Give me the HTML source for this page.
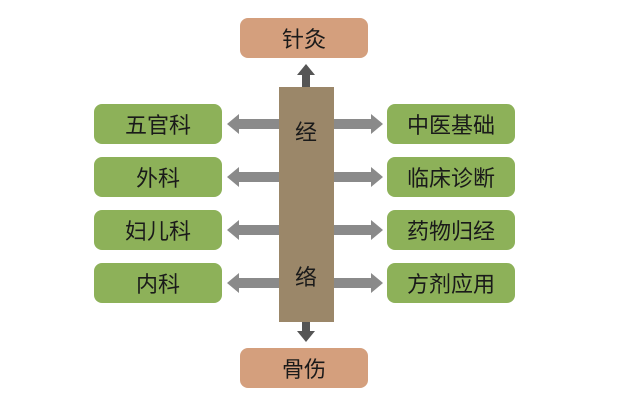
<!DOCTYPE html>
<html><head><meta charset="utf-8"><style>
body{margin:0;width:617px;height:409px;background:#fff;position:relative;overflow:hidden;font-family:"Liberation Sans","Noto Sans CJK SC",sans-serif;}
.b{position:absolute;width:128px;height:40px;border-radius:8px;display:flex;align-items:center;justify-content:center;font-size:22px;color:#1a1a1a;}
.g{background:#8db159;}
.o{background:#d49f7d;}
</style></head><body>
<div class="b o" style="left:240px;top:18px">针灸</div>
<div class="b o" style="left:240px;top:348px">骨伤</div>
<div class="b g" style="left:94px;top:104px">五官科</div>
<div class="b g" style="left:94px;top:157px">外科</div>
<div class="b g" style="left:94px;top:210px">妇儿科</div>
<div class="b g" style="left:94px;top:263px">内科</div>
<div class="b g" style="left:387px;top:104px">中医基础</div>
<div class="b g" style="left:387px;top:157px">临床诊断</div>
<div class="b g" style="left:387px;top:210px">药物归经</div>
<div class="b g" style="left:387px;top:263px">方剂应用</div>
<svg width="617" height="409" style="position:absolute;left:0;top:0">
<g fill="#8a8a8a">
<polygon points="227,124 239,114 239,119 280,119 280,129 239,129 239,134"/>
<polygon points="227,177 239,167 239,172 280,172 280,182 239,182 239,187"/>
<polygon points="227,230 239,220 239,225 280,225 280,235 239,235 239,240"/>
<polygon points="227,283 239,273 239,278 280,278 280,288 239,288 239,293"/>
<polygon points="383,124 371,114 371,119 334,119 334,129 371,129 371,134"/>
<polygon points="383,177 371,167 371,172 334,172 334,182 371,182 371,187"/>
<polygon points="383,230 371,220 371,225 334,225 334,235 371,235 371,240"/>
<polygon points="383,283 371,273 371,278 334,278 334,288 371,288 371,293"/>
</g>
<g fill="#555">
<polygon points="306,64 315,75 310,75 310,88 302,88 302,75 297,75"/>
<polygon points="306,342 315,331 310,331 310,322 302,322 302,331 297,331"/>
</g>
<rect x="279" y="87" width="55" height="235" fill="#9b8769"/>
<text x="306" y="140" font-size="22" text-anchor="middle" fill="#1a1a1a" font-family="Liberation Sans, Noto Sans CJK SC, sans-serif">经</text>
<text x="306" y="285" font-size="22" text-anchor="middle" fill="#1a1a1a" font-family="Liberation Sans, Noto Sans CJK SC, sans-serif">络</text>
</svg>
</body></html>
